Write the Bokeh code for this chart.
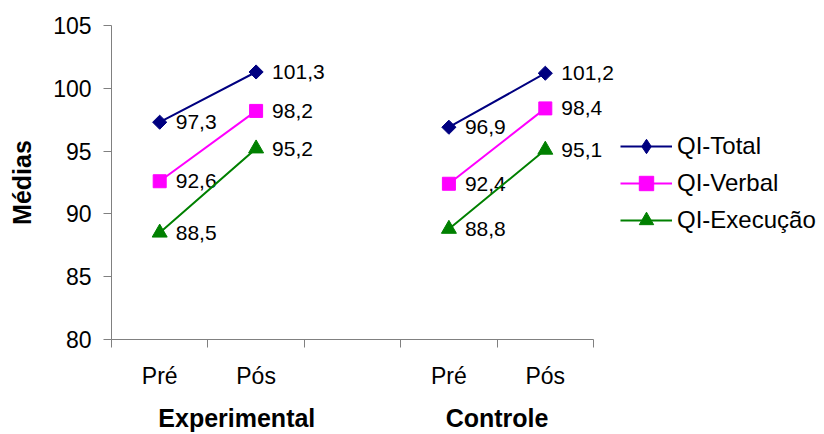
import math

from bokeh.core.properties import value
from bokeh.embed import file_html
from bokeh.models import (ColumnDataSource, FixedTicker, Legend, LegendItem,
                          LinearAxis, Range1d)
from bokeh.plotting import figure
from bokeh.resources import INLINE

# ---- data -----------------------------------------------------------------
categories = ["Pré", "Pós", "", "Pré", "Pós"]
groups = ["Experimental", "Controle"]
qi_total = [97.3, 101.3, None, 96.9, 101.2]
qi_verbal = [92.6, 98.2, None, 92.4, 98.4]
qi_execucao = [88.5, 95.2, None, 88.8, 95.1]
y_ticks = [80, 85, 90, 95, 100, 105]

# ---- styling / layout -----------------------------------------------------
FONT = "Liberation Sans"
AXIS_COLOR = "#808080"
LABEL_TXT = "21px"   # value labels next to the points
TICK_TXT = "23px"
LEGEND_TXT = "24px"
BOLD_TXT = "25px"
WIDTH, HEIGHT = 824, 434
LEFT, TOP, BOTTOM = 111, 25, 94
AXIS_PX = 482               # pixel length of the category axis
group_centers = [1.3, 4.0]  # where the group captions sit on the x scale

series = [
    # name, values, colour, marker, size, angle, legend marker
    ("QI-Total", qi_total, "#000080", "square", 10, math.pi / 4, "diamond"),
    ("QI-Verbal", qi_verbal, "#FF00FF", "square", 13, 0, "square"),
    ("QI-Execução", qi_execucao, "#008000", "triangle", 15, 0, "triangle"),
]

n = len(categories)
xs = [i + 0.5 for i in range(n)]
# the frame runs to the right edge so labels and legend are not clipped;
# the axis itself is bounded to the categories
x_end = n * (WIDTH - LEFT) / AXIS_PX

p = figure(
    width=WIDTH, height=HEIGHT,
    output_backend="svg", toolbar_location=None,
    x_range=Range1d(0, x_end), y_range=Range1d(80, 105),
    x_axis_type=None, y_axis_type=None,
    min_border_left=LEFT, min_border_right=0,
    min_border_top=TOP, min_border_bottom=BOTTOM,
)
p.outline_line_color = None
p.background_fill_color = "white"
p.border_fill_color = "white"

# ---- y axis ---------------------------------------------------------------
yaxis = LinearAxis(ticker=FixedTicker(ticks=y_ticks))
yaxis.axis_label = "Médias"
yaxis.axis_label_text_font = FONT
yaxis.axis_label_text_font_size = BOLD_TXT
yaxis.axis_label_text_font_style = "bold"
yaxis.axis_label_text_color = "black"
yaxis.axis_label_standoff = 14
yaxis.axis_line_color = AXIS_COLOR
yaxis.major_tick_line_color = AXIS_COLOR
yaxis.major_tick_in = 0
yaxis.major_tick_out = 8
yaxis.minor_tick_line_color = None
yaxis.major_label_text_font = FONT
yaxis.major_label_text_font_size = TICK_TXT
yaxis.major_label_text_color = "black"
yaxis.major_label_standoff = 12
p.add_layout(yaxis, "left")

# ---- x axis: category labels, ticks on the category boundaries -----------
cat_ticks = [x for x, c in zip(xs, categories) if c]
xaxis = LinearAxis(
    bounds=(0, n),
    ticker=FixedTicker(ticks=cat_ticks, minor_ticks=list(range(n + 1))))
xaxis.major_label_overrides = {x: c for x, c in zip(xs, categories) if c}
xaxis.axis_line_color = AXIS_COLOR
xaxis.major_tick_line_color = None
xaxis.major_tick_in = 0
xaxis.major_tick_out = 8
xaxis.minor_tick_line_color = AXIS_COLOR
xaxis.minor_tick_in = 0
xaxis.minor_tick_out = 8
xaxis.major_label_text_font = FONT
xaxis.major_label_text_font_size = TICK_TXT
xaxis.major_label_text_color = "black"
xaxis.major_label_standoff = 15
p.add_layout(xaxis, "below")

# ---- x axis: group captions ----------------------------------------------
gaxis = LinearAxis(bounds=(0, n),
                   ticker=FixedTicker(ticks=group_centers, minor_ticks=[]))
gaxis.major_label_overrides = {x: g for x, g in zip(group_centers, groups)}
gaxis.axis_line_color = None
gaxis.major_tick_line_color = None
gaxis.minor_tick_line_color = None
gaxis.major_tick_in = 0
gaxis.major_tick_out = 0
gaxis.major_label_text_font = FONT
gaxis.major_label_text_font_size = BOLD_TXT
gaxis.major_label_text_font_style = "bold"
gaxis.major_label_text_color = "black"
gaxis.major_label_standoff = 12
p.add_layout(gaxis, "below")

# ---- series ---------------------------------------------------------------
items = []
for name, vals, color, marker, size, angle, key_marker in series:
    ys = [float("nan") if v is None else v for v in vals]
    p.line(xs, ys, line_color=color, line_width=2)

    px = [x for x, v in zip(xs, vals) if v is not None]
    py = [v for v in vals if v is not None]
    labels = [f"{v:.1f}".replace(".", ",") for v in py]
    src = ColumnDataSource(dict(x=px, y=py, label=labels))

    p.scatter("x", "y", source=src, marker=marker, size=size,
              angle=angle, fill_color=color, line_color=color)
    p.text("x", "y", text="label", source=src, x_offset=16,
           text_align="left", text_baseline="middle",
           text_font=value(FONT), text_font_size=LABEL_TXT,
           text_color="black")

    # legend key: a line with the series marker drawn upright (no points
    # of its own in the plot area)
    key_src = ColumnDataSource(dict(x=[float("nan")], y=[float("nan")]))
    key_line = p.line("x", "y", source=key_src, line_color=color,
                      line_width=2)
    key_pt = p.scatter("x", "y", source=key_src, marker=key_marker,
                       fill_color=color, line_color=color)
    items.append(LegendItem(label=name, renderers=[key_line, key_pt]))

legend = Legend(
    items=items, location=(509, 101), orientation="vertical",
    border_line_color=None, background_fill_alpha=0,
    padding=0, margin=0, spacing=1,
    glyph_width=52, glyph_height=36, label_height=36, label_standoff=5,
    label_text_font=FONT, label_text_font_size=LEGEND_TXT,
    label_text_color="black",
)
p.add_layout(legend)

open("out.html", "w").write(file_html(p, INLINE))
